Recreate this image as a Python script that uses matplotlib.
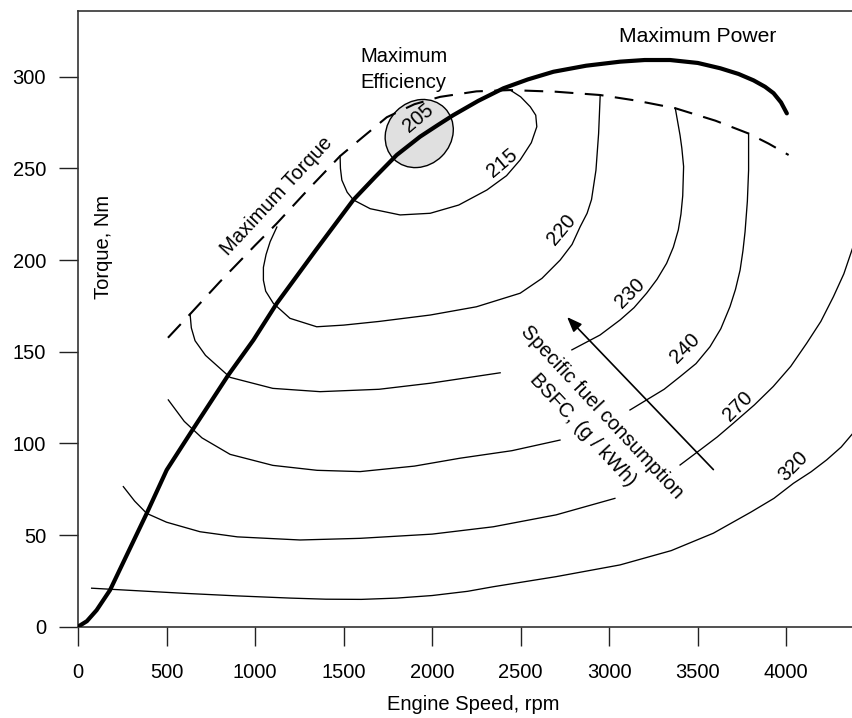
import numpy as np
import matplotlib.pyplot as plt
import matplotlib.transforms as transforms
from matplotlib.patches import Ellipse

plt.rcParams['font.family'] = ['Liberation Sans', 'DejaVu Sans']

# maximum power curve (thick)
power_rpm = [0, 50, 105, 181, 280, 388, 501, 651, 849, 991, 1123, 1340, 1555, 1680, 1800,
             1932, 2030, 2119, 2260, 2403, 2540, 2685, 2870, 3062, 3200, 3344, 3500, 3627,
             3730, 3815, 3880, 3928, 3970, 4003]
power_nm = [0, 3, 9, 20, 40, 61.8, 85.5, 108, 137.3, 156.4, 176.4, 205, 232.8, 245.5, 257.3,
            267.3, 273.5, 279, 286.8, 293.7, 298.5, 302.7, 306, 308.2, 309.1, 309.1, 307.5, 304.6,
            301.5, 298, 294.5, 291, 286, 280]

# maximum torque curve (dashed)
torque_rpm = [508, 633, 800, 1000, 1123, 1300, 1480, 1620, 1744, 1900, 2045, 2250, 2441,
              2700, 2949, 3150, 3373, 3600, 3787, 3900, 4013]
torque_nm = [157.6, 170.5, 188, 208, 220, 238.5, 256.7, 268, 277.9, 285, 289, 292, 292.7,
             291.8, 290, 287, 282.8, 276, 269, 263.5, 257.3]

# BSFC contours, g/kWh (split where the text crosses them)
c320_rpm = [77, 300, 600, 900, 1200, 1400, 1600, 1800, 2000, 2200, 2345, 2700, 3061, 3350,
            3588, 3800, 3930, 4040, 4140, 4228, 4310, 4376]
c320_nm = [21, 19.8, 18.2, 16.8, 15.6, 15, 14.9, 15.6, 17, 19.3, 21.8, 27.3, 33.7, 41.5,
           51, 62.5, 70, 78.2, 84.5, 91, 98, 105.5]

c270a_rpm = [256, 320, 388, 500, 689, 900, 1254, 1593, 2000, 2345, 2700, 3032]
c270a_nm = [76.4, 68.5, 61.8, 57, 51.8, 49, 47.3, 48.2, 50.5, 54.5, 61, 70]
c270b_rpm = [3400, 3513, 3610, 3701, 3820, 3926, 4025, 4115, 4195, 4266, 4325, 4376]
c270b_nm = [88.2, 96.4, 103.5, 111, 121, 131, 142, 154.6, 166.5, 180, 192.5, 207]

c240a_rpm = [510, 600, 700, 859, 1100, 1350, 1593, 1900, 2157, 2450, 2722]
c240a_nm = [123.7, 112, 103, 94, 88, 85.3, 84.6, 87.6, 91.9, 96, 101.8]
c240b_rpm = [3117, 3211, 3310, 3400, 3490, 3569, 3630, 3682, 3713, 3739, 3755, 3767, 3780,
             3787, 3787]
c240b_nm = [118.2, 123.7, 129.5, 136.4, 143.5, 152.7, 162.5, 174.6, 184, 194.5, 205, 215.4,
            232, 249, 269]

c230a_rpm = [633, 640, 661, 720, 859, 1100, 1367, 1700, 1989, 2384]
c230a_nm = [170.5, 163, 156, 148, 136, 130, 128.2, 129.5, 132.8, 138.5]
c230b_rpm = [2789, 2948, 3061, 3140, 3211, 3270, 3324, 3362, 3390, 3405, 3415, 3420, 3410,
             3400, 3373]
c230b_nm = [151, 159.1, 167.3, 174, 181.9, 189.5, 198.2, 207, 216.4, 225, 235, 251, 261,
            268, 282.8]

c220_rpm = [1123, 1085, 1062, 1047, 1047, 1060, 1103, 1197, 1348, 1500, 1700, 1989, 2250,
            2497, 2620, 2723, 2790, 2836, 2875, 2900, 2925, 2940, 2949]
c220_nm = [218, 210, 203, 196, 189, 183, 176.4, 168.2, 163.6, 164.5, 166.5, 170, 174.5,
           181.9, 190, 200, 208.5, 218.2, 225.5, 233, 249, 269, 290]

c215_rpm = [1480, 1482, 1490, 1520, 1555, 1650, 1819, 1989, 2150, 2309, 2420, 2497, 2560,
            2591, 2585, 2554, 2500, 2441]
c215_nm = [256.7, 250, 243.6, 237, 232.8, 228, 224.6, 225.5, 230, 238.2, 246, 254.6, 264,
           272.7, 279, 283.6, 289, 292.7]

# best efficiency island (205 g/kWh)
eff_rpm, eff_nm = 1927, 269

# contour labels: value, rpm, Nm, angle
lab_val = ['205', '215', '220', '230', '240', '270', '320']
lab_rpm = [1923, 2394, 2733, 3119, 3428, 3729, 4040]
lab_nm = [277.4, 252.8, 216.4, 181.9, 151.9, 120, 87.3]
lab_rot = [40, 40, 50, 45, 45, 45, 45]

fig = plt.figure(figsize=(8.53, 7.18), dpi=100)
ax = fig.add_axes([78 / 853, 1 - 626.7 / 718, 775 / 853, 616 / 718])

# island drawn in inches, centred on its data point
island_tr = fig.dpi_scale_trans + transforms.ScaledTranslation(eff_rpm, eff_nm, ax.transData)
ax.add_patch(Ellipse((0, 0), 0.72, 0.64, angle=45, transform=island_tr,
                     facecolor='#e0e0e0', edgecolor='black', lw=1, zorder=1))

contours = [(c320_rpm, c320_nm), (c270a_rpm, c270a_nm), (c270b_rpm, c270b_nm),
            (c240a_rpm, c240a_nm), (c240b_rpm, c240b_nm), (c230a_rpm, c230a_nm),
            (c230b_rpm, c230b_nm), (c220_rpm, c220_nm), (c215_rpm, c215_nm)]
for xs, ys in contours:
    ax.plot(xs, ys, color='black', lw=0.95, zorder=2, solid_joinstyle='round')

ax.plot(torque_rpm, torque_nm, color='black', lw=1.5, linestyle=(0, (9, 5.5)), zorder=3)
ax.plot(power_rpm, power_nm, color='black', lw=3, solid_capstyle='round',
        solid_joinstyle='round', zorder=4)

for v, x, y, r in zip(lab_val, lab_rpm, lab_nm, lab_rot):
    ax.text(x, y, v, fontsize=14.5, rotation=r, rotation_mode='anchor', ha='center', va='center')

ax.text(3497, 321.8, 'Maximum Power', fontsize=15.2, ha='center', va='center')
ax.text(1840, 304, 'Maximum\nEfficiency', fontsize=14.5, ha='center', va='center', linespacing=1.45)
ax.text(1123, 234.6, 'Maximum Torque', fontsize=14.5, rotation=47, rotation_mode='anchor',
        ha='center', va='center')
ax.text(2904, 112, 'Specific fuel consumption\nBSFC, (g / kWh)', fontsize=14.5, rotation=-47,
        rotation_mode='anchor', ha='center', va='center', multialignment='center', linespacing=1.45)
ax.text(142, 207.3, 'Torque, Nm', fontsize=14.5, rotation=90, ha='center', va='center')

ax.annotate('', xy=(2751, 170), xytext=(3599, 84.6),
            arrowprops=dict(arrowstyle='-|>,head_length=0.9,head_width=0.35', color='black', lw=1.2))

ax.set_xlim(0, 4376.6)
ax.set_ylim(0, 336)
ax.set_xticks(np.arange(0, 4001, 500))
ax.set_yticks(np.arange(0, 301, 50))
ax.tick_params(direction='out', length=14, width=1, labelsize=14.5, colors='#222222',
               labelcolor='black')
ax.tick_params(axis='x', pad=12)
ax.tick_params(axis='y', pad=9)
for s in ['left', 'bottom', 'top']:
    ax.spines[s].set_color('#333333')
    ax.spines[s].set_linewidth(1.2)
ax.spines['right'].set_visible(False)

ax.set_xlabel('Engine Speed, rpm', fontsize=14.5, va='top')
ax.xaxis.set_label_coords((473 - 78) / 775, -0.1115)

fig.savefig('out.png', dpi=100)
